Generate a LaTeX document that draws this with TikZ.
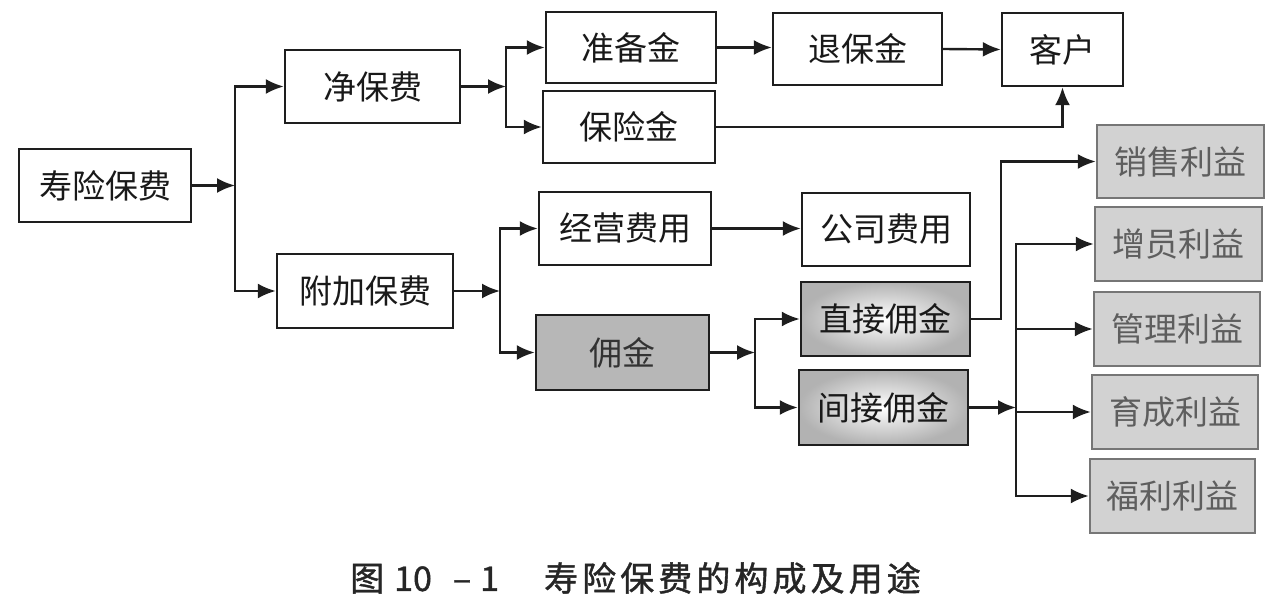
\documentclass[tikz,border=0pt]{standalone}
\usepackage{fontspec}
\setmainfont{Noto Sans CJK SC}
\newfontfamily\capfont[FakeBold=1.2, LetterSpace=12]{Noto Sans CJK SC}
\newfontfamily\capdigits[FakeBold=1.2]{Noto Sans CJK SC}
\usetikzlibrary{arrows.meta}
\definecolor{boxline}{HTML}{1E1E1E}
\definecolor{darkfill}{HTML}{B7B7B7}
\definecolor{lightfill}{HTML}{D2D2D2}
\definecolor{lightline}{HTML}{767676}
\definecolor{lighttext}{HTML}{5E5E5E}
\tikzset{
  box/.style={draw=boxline, line width=2.4pt, inner sep=0pt, fill=white,
    font=\fontsize{33}{40}\selectfont, text=black!90},
  darkbox/.style={box, fill=darkfill, text=black!80},
  shadebox/.style={box, shading=radial, inner color=white, outer color=black!30},
  gainbox/.style={box, draw=lightline, fill=lightfill, text=lighttext},
  arr/.style={draw=boxline, line width=2.4pt, -{Latex[length=18pt,width=15pt]}},
  sz/.style n args={2}{minimum width=#1pt, minimum height=#2pt}
}
\begin{document}
\begin{tikzpicture}[x=1pt,y=-1pt]
\useasboundingbox (0,0) rectangle (1280,609);
% nodes
\node[box, sz={172}{73}] (shou) at (105,185.5) {寿险保费};
\node[box, sz={175}{73}] (jing) at (372.5,86.5) {净保费};
\node[box, sz={176}{74}] (fujia) at (365,291) {附加保费};
\node[box, sz={170}{71}] (zhunbei) at (631,47.5) {准备金};
\node[box, sz={172}{72}] (baoxian) at (629,127) {保险金};
\node[box, sz={169}{72}] (tuibao) at (857.5,49) {退保金};
\node[box, sz={121}{73}] (kehu) at (1062.5,49.5) {客户};
\node[box, sz={172}{73}] (jingying) at (625,228.5) {经营费用};
\node[darkbox, sz={173}{75}] (yongjin) at (622.5,352.5) {佣金};
\node[box, sz={168}{73}] (gongsi) at (886,229.5) {公司费用};
\node[shadebox, sz={169}{74}] (zhijie) at (885.5,319) {直接佣金};
\node[shadebox, sz={169}{75}] (jianjie) at (883.5,407.5) {间接佣金};
\node[gainbox, sz={167}{73}] (xiaoshou) at (1180.5,161.5) {销售利益};
\node[gainbox, sz={167}{74}] (zengyuan) at (1178.5,244) {增员利益};
\node[gainbox, sz={166}{74}] (guanli) at (1177,329) {管理利益};
\node[gainbox, sz={166}{74}] (yucheng) at (1175,412) {育成利益};
\node[gainbox, sz={165}{74}] (fuli) at (1172.5,496) {福利利益};
\node[font=\fontsize{34}{40}\capdigits, text=black!85, inner sep=0pt, anchor=west] (caption) at (350,578)
  {图\hspace{10pt}10\hspace{21pt}–\hspace{9pt}1\hspace{45pt}{\capfont 寿险保费的构成及用途}};
% junction points
\coordinate (j1) at (235,185.5);
\coordinate (j2) at (506,86.5);
\coordinate (j3) at (500,291);
\coordinate (j4) at (755,352.5);
\coordinate (k1) at (1001,319);
\coordinate (j5) at (1016,407.5);
% connectors
\draw[arr] (shou.east) -- (j1);
\draw[arr] (j1) |- (jing.west);
\draw[arr] (j1) |- (fujia.west);
\draw[arr] (jing.east) -- (j2);
\draw[arr] (j2) |- (zhunbei.west);
\draw[arr] (j2) |- (baoxian.west);
\draw[arr] (zhunbei.east) -- (zhunbei.east -| tuibao.west);
\draw[arr] (tuibao.east) -- (kehu.west);
\draw[arr] (baoxian.east) -| (kehu.south);
\draw[arr] (fujia.east) -- (j3);
\draw[arr] (j3) |- (jingying.west);
\draw[arr] (j3) |- (yongjin.west);
\draw[arr] (jingying.east) -- (jingying.east -| gongsi.west);
\draw[arr] (yongjin.east) -- (j4);
\draw[arr] (j4) |- (zhijie.west);
\draw[arr] (j4) |- (jianjie.west);
\draw[arr] (zhijie.east) -- (k1) |- (xiaoshou.west);
\draw[arr] (jianjie.east) -- (j5);
\draw[arr] (j5) |- (zengyuan.west);
\draw[arr] (j5) |- (guanli.west);
\draw[arr] (j5) |- (yucheng.west);
\draw[arr] (j5) |- (fuli.west);
\end{tikzpicture}
\end{document}
